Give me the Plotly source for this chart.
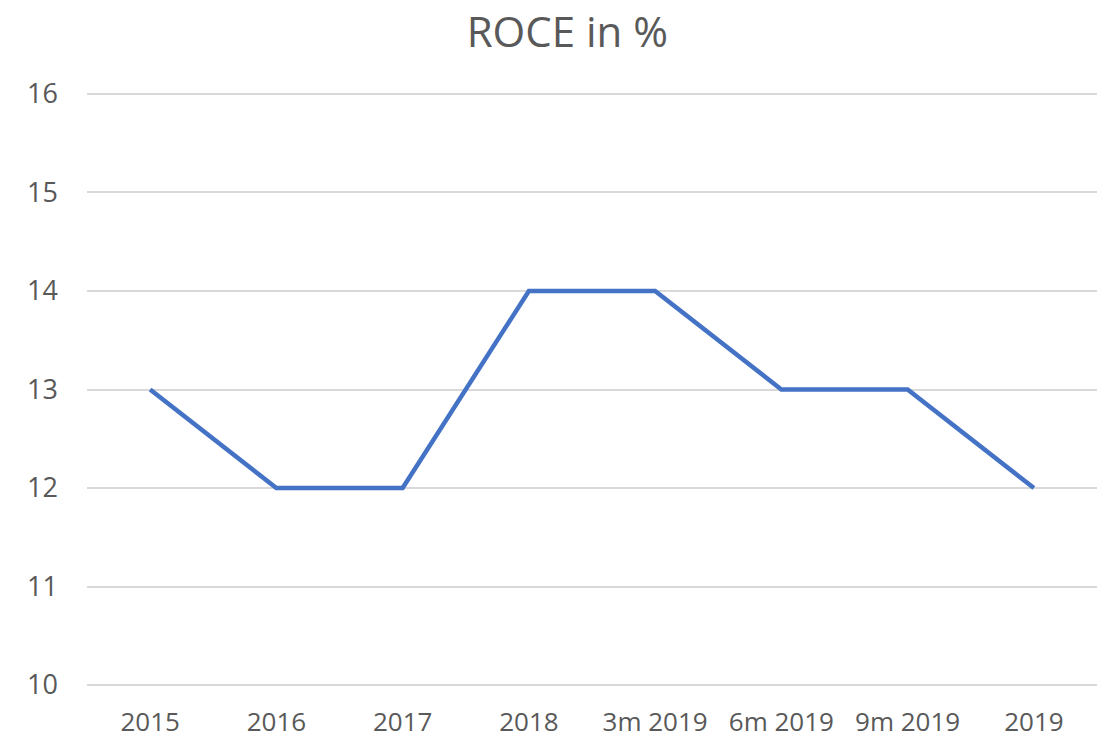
import plotly.graph_objects as go

categories = ["2015", "2016", "2017", "2018", "3m 2019", "6m 2019", "9m 2019", "2019"]
roce = [13, 12, 12, 14, 14, 13, 13, 12]
y_ticks = [10, 11, 12, 13, 14, 15, 16]

fig = go.Figure()
fig.add_trace(go.Scatter(
    x=categories, y=roce, mode="lines",
    line=dict(color="#4472C4", width=4.5),
    hoverinfo="x+y",
))

fig.update_layout(
    width=1107, height=740,
    margin=dict(l=87, r=10, t=91, b=52),
    paper_bgcolor="white", plot_bgcolor="white",
    font=dict(family="Open Sans, Lato, sans-serif", color="#595959", size=27),
    title=dict(text="ROCE in %", x=0.5125, xanchor="center", y=0.957, yanchor="middle",
               font=dict(size=42, color="#595959")),
    showlegend=False,
    xaxis=dict(
        type="category", range=[-0.5, 7.5], showgrid=False, zeroline=False, showline=False,
        ticks="", ticklabelstandoff=16, tickfont=dict(size=26, color="#595959"),
        automargin=False,
    ),
    yaxis=dict(
        range=[9.97, 16.03], tickvals=y_ticks, ticktext=[str(v) for v in y_ticks],
        showgrid=True, gridcolor="#D9D9D9", gridwidth=1.5, zeroline=False,
        showline=False, ticks="", ticklabelstandoff=28,
        tickfont=dict(size=27, color="#595959"), automargin=False,
    ),
)

fig.write_html(
    "out.html",
    config={"displayModeBar": False},
    post_script="document.body.style.margin='0';document.body.style.overflow='hidden';",
)
